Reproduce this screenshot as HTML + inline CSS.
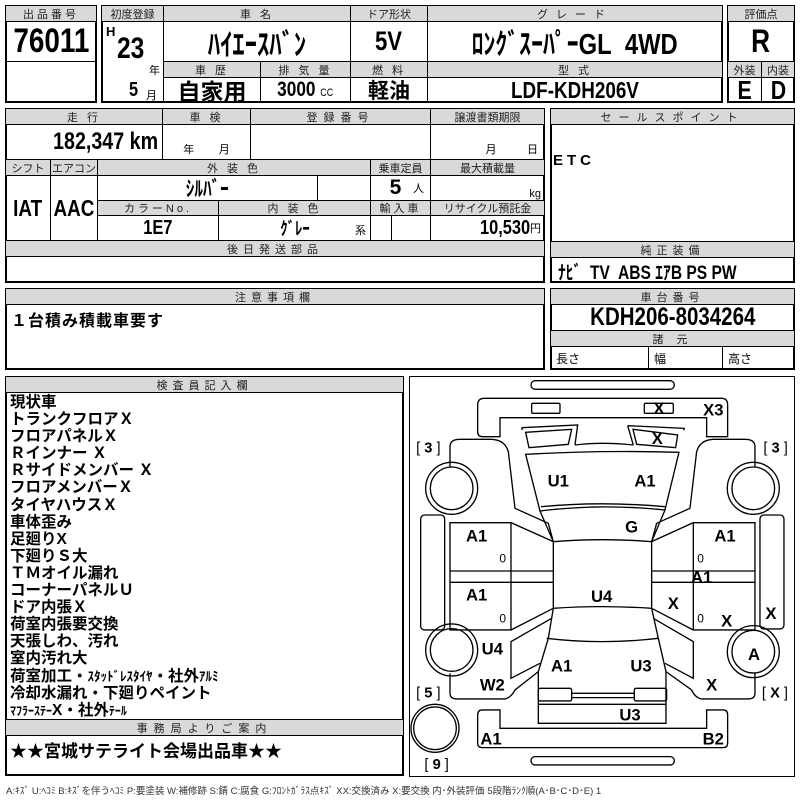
<!DOCTYPE html>
<html><head><meta charset="utf-8"><style>
*{margin:0;padding:0;box-sizing:border-box}
body{width:800px;height:800px;background:#fff;position:relative;overflow:hidden;font-family:"Liberation Sans","Noto Sans CJK JP",sans-serif;color:#000}
.c{position:absolute;border:1px solid #000;display:flex;align-items:center;justify-content:center;white-space:nowrap;overflow:hidden}
.o{position:absolute;border:2px solid #000}
.g{background:#d9d9d9;font-size:11px;letter-spacing:3px;color:#222}
.b{font-weight:bold}
.n{display:inline-block;transform:scaleX(.82)}
.t{position:absolute;white-space:nowrap}
</style></head><body>
<!-- block1 -->
<div class="o" style="left:5px;top:5px;width:92px;height:98px"></div>
<div class="c g" style="left:5px;top:5px;width:92px;height:17px">出品番号</div>
<div class="c b" style="left:5px;top:21px;width:92px;height:41px;font-size:34px"><span class="n">76011</span></div>
<div class="c" style="left:5px;top:61px;width:92px;height:42px"></div>
<!-- block2 -->
<div class="o" style="left:101px;top:5px;width:622px;height:98px"></div>
<div class="c g" style="left:101px;top:5px;width:63px;height:17px;letter-spacing:0">初度登録</div>
<div class="c g" style="left:163px;top:5px;width:188px;height:17px">車 名</div>
<div class="c g" style="left:350px;top:5px;width:78px;height:17px;letter-spacing:0">ドア形状</div>
<div class="c g" style="left:427px;top:5px;width:296px;height:17px;letter-spacing:8px">グレード</div>
<div class="c" style="left:101px;top:21px;width:63px;height:82px"></div>
<div class="t b" style="left:106px;top:24px;font-size:13px">H</div>
<div class="t b" style="left:114px;top:32px;font-size:30px"><span class="n">23</span></div>
<div class="t" style="left:149px;top:62px;font-size:11px">年</div>
<div class="t b" style="left:128px;top:79px;font-size:20px"><span class="n">5</span></div>
<div class="t" style="left:146px;top:87px;font-size:11px">月</div>
<div class="c b" style="left:163px;top:21px;width:188px;height:41px;font-size:30px"><span class="n">ﾊｲｴｰｽﾊﾞﾝ</span></div>
<div class="c b" style="left:350px;top:21px;width:78px;height:41px;font-size:27px"><span class="n">5V</span></div>
<div class="c b" style="left:427px;top:21px;width:296px;height:41px;font-size:29px"><span class="n">ﾛﾝｸﾞｽｰﾊﾟｰGL&nbsp; 4WD</span></div>
<div class="c g" style="left:163px;top:61px;width:98px;height:17px">車 歴</div>
<div class="c g" style="left:260px;top:61px;width:91px;height:17px">排 気 量</div>
<div class="c g" style="left:350px;top:61px;width:78px;height:17px">燃 料</div>
<div class="c g" style="left:427px;top:61px;width:296px;height:17px">型 式</div>
<div class="c b" style="left:163px;top:77px;width:98px;height:26px;font-size:23px">自家用</div>
<div class="c b" style="left:260px;top:77px;width:91px;height:26px;font-size:21px"><span class="n">3000 <span style="font-size:11px;font-weight:normal">CC</span></span></div>
<div class="c b" style="left:350px;top:77px;width:78px;height:26px;font-size:21px">軽油</div>
<div class="c b" style="left:427px;top:77px;width:296px;height:26px;font-size:23px"><span class="n">LDF-KDH206V</span></div>
<!-- block3 -->
<div class="o" style="left:727px;top:5px;width:68px;height:98px"></div>
<div class="c g" style="left:727px;top:5px;width:68px;height:17px;letter-spacing:0">評価点</div>
<div class="c b" style="left:727px;top:21px;width:68px;height:41px;font-size:32px"><span class="n">R</span></div>
<div class="c g" style="left:727px;top:61px;width:35px;height:17px;letter-spacing:0">外装</div>
<div class="c g" style="left:761px;top:61px;width:34px;height:17px;letter-spacing:0">内装</div>
<div class="c b" style="left:727px;top:77px;width:35px;height:26px;font-size:26px"><span class="n">E</span></div>
<div class="c b" style="left:761px;top:77px;width:34px;height:26px;font-size:26px"><span class="n">D</span></div>
<!-- section2 -->
<div class="o" style="left:5px;top:108px;width:540px;height:175px"></div>
<div class="c g" style="left:5px;top:108px;width:158px;height:17px">走 行</div>
<div class="c g" style="left:162px;top:108px;width:89px;height:17px">車 検</div>
<div class="c g" style="left:250px;top:108px;width:181px;height:17px;letter-spacing:6px">登録番号</div>
<div class="c g" style="left:430px;top:108px;width:115px;height:17px;letter-spacing:0">譲渡書類期限</div>
<div class="c b" style="left:5px;top:124px;width:158px;height:36px;font-size:24px;justify-content:flex-end;padding-right:4px"><span class="n" style="transform-origin:right">182,347 km</span></div>
<div class="c" style="left:162px;top:124px;width:89px;height:36px;font-size:11px;align-items:flex-end;padding-bottom:2px">年&nbsp;&nbsp;&nbsp;&nbsp;&nbsp;&nbsp;&nbsp;&nbsp;月</div>
<div class="c" style="left:250px;top:124px;width:181px;height:36px"></div>
<div class="c" style="left:430px;top:124px;width:115px;height:36px;font-size:11px;align-items:flex-end;padding-bottom:2px;justify-content:flex-end;padding-right:6px">月&nbsp;&nbsp;&nbsp;&nbsp;&nbsp;&nbsp;&nbsp;&nbsp;&nbsp;&nbsp;日</div>
<div class="c g" style="left:5px;top:159px;width:46px;height:17px;letter-spacing:0">シフト</div>
<div class="c g" style="left:50px;top:159px;width:48px;height:17px;letter-spacing:0">エアコン</div>
<div class="c g" style="left:97px;top:159px;width:274px;height:17px">外 装 色</div>
<div class="c g" style="left:370px;top:159px;width:61px;height:17px;letter-spacing:0">乗車定員</div>
<div class="c g" style="left:430px;top:159px;width:115px;height:17px;letter-spacing:0">最大積載量</div>
<div class="c b" style="left:5px;top:175px;width:46px;height:66px;font-size:23px"><span class="n">IAT</span></div>
<div class="c b" style="left:50px;top:175px;width:48px;height:66px;font-size:23px"><span class="n">AAC</span></div>
<div class="c b" style="left:97px;top:175px;width:221px;height:26px;font-size:21px"><span class="n">ｼﾙﾊﾞｰ</span></div>
<div class="c" style="left:317px;top:175px;width:54px;height:26px"></div>
<div class="c b" style="left:370px;top:175px;width:61px;height:26px;font-size:21px;justify-content:flex-end;padding-right:6px">5&nbsp;&nbsp;<span style="font-size:11px;font-weight:normal">人</span></div>
<div class="c" style="left:430px;top:175px;width:115px;height:26px;font-size:11px;justify-content:flex-end;padding-right:3px;align-items:flex-end">kg</div>
<div class="c g" style="left:97px;top:200px;width:122px;height:16px">カラーNo.</div>
<div class="c g" style="left:218px;top:200px;width:153px;height:16px">内 装 色</div>
<div class="c g" style="left:370px;top:200px;width:61px;height:16px">輸入車</div>
<div class="c g" style="left:430px;top:200px;width:115px;height:16px;letter-spacing:0">リサイクル預託金</div>
<div class="c b" style="left:97px;top:215px;width:122px;height:26px;font-size:20px"><span class="n">1E7</span></div>
<div class="c b" style="left:218px;top:215px;width:153px;height:26px;font-size:18px"><span class="n">ｸﾞﾚｰ</span><span style="position:absolute;right:4px;bottom:2px;font-size:11px;font-weight:normal">系</span></div>
<div class="c" style="left:370px;top:215px;width:22px;height:26px"></div>
<div class="c" style="left:391px;top:215px;width:40px;height:26px"></div>
<div class="c b" style="left:430px;top:215px;width:115px;height:26px;font-size:20px;justify-content:flex-end;padding-right:3px"><span class="n" style="transform-origin:right">10,530</span><span style="font-size:11px;font-weight:normal">円</span></div>
<div class="c g" style="left:5px;top:240px;width:540px;height:17px;letter-spacing:5px">後日発送部品</div>
<!-- 注意 -->
<div class="o" style="left:5px;top:288px;width:540px;height:82px"></div>
<div class="c g" style="left:5px;top:288px;width:540px;height:17px;letter-spacing:5px">注意事項欄</div>
<div class="t b" style="left:11px;top:307px;font-size:16px;letter-spacing:1px">１台積み積載車要す</div>
<!-- right sales -->
<div class="o" style="left:550px;top:108px;width:245px;height:175px"></div>
<div class="c g" style="left:550px;top:108px;width:245px;height:17px;letter-spacing:7px">セールスポイント</div>
<div class="t b" style="left:553px;top:152px;font-size:15px;letter-spacing:4px">ETC</div>
<div class="c g" style="left:550px;top:241px;width:245px;height:17px;letter-spacing:5px">純正装備</div>
<div class="t b" style="left:558px;top:258px;font-size:19px"><span class="n" style="transform-origin:left">ﾅﾋﾞ&nbsp; TV&nbsp; ABS ｴｱB PS PW</span></div>
<div class="o" style="left:550px;top:288px;width:245px;height:82px"></div>
<div class="c g" style="left:550px;top:288px;width:245px;height:17px;letter-spacing:5px">車台番号</div>
<div class="c b" style="left:550px;top:304px;width:245px;height:27px;font-size:25px"><span class="n">KDH206-8034264</span></div>
<div class="c g" style="left:550px;top:330px;width:245px;height:17px;letter-spacing:5px">諸 元</div>
<div class="c" style="left:550px;top:346px;width:99px;height:24px;font-size:12px;justify-content:flex-start;padding-left:5px">長さ</div>
<div class="c" style="left:648px;top:346px;width:75px;height:24px;font-size:12px;justify-content:flex-start;padding-left:5px">幅</div>
<div class="c" style="left:722px;top:346px;width:73px;height:24px;font-size:12px;justify-content:flex-start;padding-left:5px">高さ</div>
<!-- inspector -->
<div class="o" style="left:5px;top:376px;width:399px;height:400px"></div>
<div class="c g" style="left:5px;top:376px;width:399px;height:17px;letter-spacing:5px">検査員記入欄</div>
<div class="t b" style="left:10px;top:394px;font-size:15.5px;line-height:17.1px">現状車<br>トランクフロアＸ<br>フロアパネルＸ<br>Ｒインナー Ｘ<br>Ｒサイドメンバー Ｘ<br>フロアメンバーＸ<br>タイヤハウスＸ<br>車体歪み<br>足廻りX<br>下廻りＳ大<br>ＴＭオイル漏れ<br>コーナーパネルＵ<br>ドア内張Ｘ<br>荷室内張要交換<br>天張しわ、汚れ<br>室内汚れ大<br>荷室加工・<span style="font-size:13px">ｽﾀｯﾄﾞﾚｽﾀｲﾔ</span>・社外<span style="font-size:13px">ｱﾙﾐ</span><br>冷却水漏れ・下廻りペイント<br><span style="font-size:12px">ﾏﾌﾗｰｽﾃｰ</span>X・社外<span style="font-size:12px">ﾃｰﾙ</span></div>
<div class="c g" style="left:5px;top:719px;width:399px;height:17px;letter-spacing:6px">事務局よりご案内</div>
<div class="t b" style="left:10px;top:737px;font-size:17px">★★宮城サテライト会場出品車★★</div>
<div class="t" style="left:6px;top:783px;font-size:9.5px;color:#333">A:ｷｽﾞ U:ﾍｺﾐ B:ｷｽﾞを伴うﾍｺﾐ P:要塗装 W:補修跡 S:錆 C:腐食 G:ﾌﾛﾝﾄｶﾞﾗｽ点ｷｽﾞ XX:交換済み X:要交換 内･外装評価 5段階ﾗﾝｸ順(A･B･C･D･E) 1</div>
<!-- diagram -->
<div class="o" style="left:409px;top:376px;width:386px;height:401px;border-width:1.5px"></div>
<svg style="position:absolute;left:0;top:0" width="800" height="800">
<g transform="translate(405,375) scale(0.3333)" fill="none" stroke="#000" stroke-width="4">
<rect x="378" y="17" width="430" height="26" rx="13"/>
<rect x="378" y="1145" width="430" height="25" rx="12"/>
<path d="M218,90 Q218,70 238,70 L950,70 Q968,70 968,90 L968,185 L905,185 L905,128 L285,128 L285,185 L232,185 Q218,185 218,170 Z"/>
<rect x="380" y="85" width="85" height="30" rx="4"/>
<rect x="718" y="85" width="87" height="30" rx="4"/>
<path d="M350,158 L518,150 L510,210 M352,165 L350,158 M668,152 L838,160 L836,166 M668,152 L685,210"/>
<path d="M362,172 L500,163 L490,208 L372,218 Z"/>
<path d="M684,163 L818,180 L812,218 L695,208 Z"/>
<path d="M510,210 Q590,200 685,210"/>
<path d="M362,238 Q590,225 822,232 L780,405 Q590,385 405,408 Z"/>
<path d="M408,395 Q590,378 780,395"/>
<path d="M445,500 Q590,488 740,500 L740,700 Q590,690 445,700 Z"/>
<path d="M405,408 L445,500 M780,405 L740,500"/>
<path d="M135,275 L135,215 Q135,193 165,193 L260,193 Q300,195 310,230 L330,400 L430,445 L445,500"/>
<path d="M1050,275 L1050,215 Q1050,193 1020,193 L925,193 Q885,195 875,230 L855,400 L755,445 L740,500"/>
<rect x="47" y="420" width="72" height="345" rx="12"/>
<rect x="1065" y="420" width="72" height="342" rx="12"/>
<path d="M135,443 L318,443 L318,765 L135,765 Z M135,588 L445,588 M135,622 L445,622 M318,443 L445,500 M318,765 L445,700"/>
<path d="M865,443 L1050,443 L1050,765 L865,765 Z M740,588 L1050,588 M740,622 L1050,622 M865,443 L740,500 M865,765 L740,700"/>
<path d="M445,700 L430,790 L400,890 L400,1045 L783,1045 L783,890 L760,790 L740,700"/>
<path d="M425,790 Q590,810 760,790"/>
<path d="M440,730 L318,800 L318,910 L405,865 M135,895 L135,955 Q135,972 155,972 L300,972 Q318,968 330,945 L400,890"/>
<path d="M745,730 L865,800 L865,910 L780,865 M1050,895 L1050,955 Q1050,972 1030,972 L890,972 Q870,968 860,945 L783,890"/>
<rect x="400" y="940" width="100" height="38" rx="5"/>
<rect x="688" y="940" width="97" height="38" rx="5"/>
<path d="M500,955 L688,955 M500,968 L688,968"/>
<path d="M400,988 L783,988"/>
<path d="M285,1005 L285,1060 L905,1060 L905,1005 L955,1005 Q968,1005 968,1020 L968,1105 Q968,1118 955,1118 L232,1118 Q218,1118 218,1105 L218,1020 Q218,1005 232,1005 Z"/>
<circle cx="140" cy="340" r="78"/><circle cx="140" cy="340" r="64"/>
<circle cx="1045" cy="340" r="78"/><circle cx="1045" cy="340" r="64"/>
<circle cx="140" cy="825" r="78"/><circle cx="140" cy="825" r="64"/>
<circle cx="1045" cy="830" r="78"/><circle cx="1045" cy="830" r="64"/>
<circle cx="90" cy="1060" r="72"/><circle cx="90" cy="1060" r="64"/>
</g>
<g transform="translate(405,375) scale(0.3333)" font-family="Liberation Sans, sans-serif" font-weight="bold" font-size="50" text-anchor="middle" dominant-baseline="central">
<text x="762" y="100">X</text><text x="925" y="105">X3</text><text x="757" y="190">X</text>
<text x="460" y="318">U1</text><text x="720" y="318">A1</text><text x="680" y="456">G</text>
<text x="215" y="483">A1</text><text x="960" y="483">A1</text>
<text x="215" y="660">A1</text><text x="890" y="608">A1</text><text x="590" y="665">U4</text>
<text x="805" y="685">X</text><text x="965" y="738">X</text><text x="1098" y="716">X</text>
<text x="262" y="822">U4</text><text x="1047" y="838">A</text>
<text x="470" y="873">A1</text><text x="708" y="873">U3</text>
<text x="262" y="930">W2</text><text x="920" y="930">X</text>
<text x="675" y="1020">U3</text><text x="258" y="1092">A1</text><text x="925" y="1092">B2</text>
<g font-weight="normal" font-size="36"><text x="293" y="550">0</text><text x="887" y="550">0</text><text x="293" y="730">0</text><text x="887" y="730">0</text></g>
<g font-weight="normal" font-size="44"><text x="70" y="220">[ <tspan font-weight="bold">3</tspan> ]</text><text x="1112" y="220">[ <tspan font-weight="bold">3</tspan> ]</text><text x="70" y="955">[ <tspan font-weight="bold">5</tspan> ]</text><text x="1110" y="955">[ <tspan font-weight="bold">X</tspan> ]</text><text x="95" y="1170">[ <tspan font-weight="bold">9</tspan> ]</text></g>
</g>
</svg>
</body></html>
